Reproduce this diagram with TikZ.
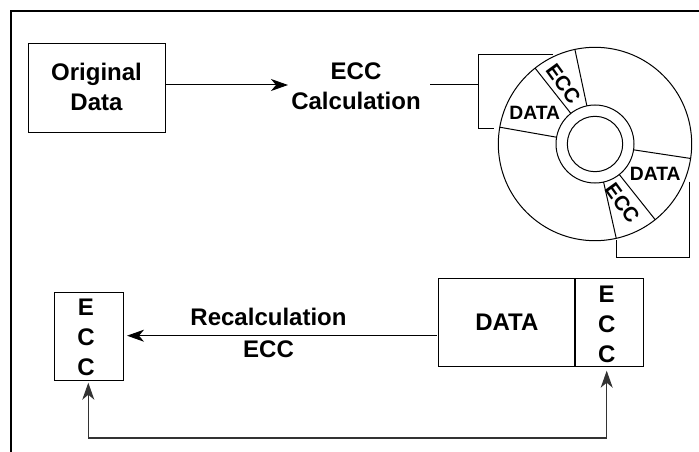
\documentclass[tikz,border=0pt]{standalone}
\usepackage{fontspec}
\setmainfont{Liberation Sans}
\usetikzlibrary{arrows.meta,calc}
\begin{document}
\begin{tikzpicture}[x=1pt,y=-1pt,
  line width=1pt,
  boxstyle/.style={draw,inner sep=0pt,rectangle},
  txt/.style={inner sep=0pt,align=center,font=\fontsize{24}{30}\selectfont\bfseries},
  disktxt/.style={inner sep=0pt,font=\fontsize{19.3}{22}\selectfont\bfseries},
  diskecc/.style={inner sep=0pt,font=\fontsize{20.5}{22}\selectfont\bfseries,rotate=-54},
  arr/.style={-{Stealth[length=17pt,width=12pt,inset=5pt]}},
  link/.style={line width=1.2pt,draw=black!80}]
\useasboundingbox (0,0) rectangle (699,452);
\fill[white] (0,0) rectangle (699,452);
\draw[line width=2.6pt] (11,452) -- (11,11) -- (699,11);
% boxes
\node[boxstyle,minimum width=137pt,minimum height=88pt] (orig) at (96.5,88) {};
\node[txt] (origt) at (96.5,86.5) {Original\\Data};
\node[txt] (calc) at (356,86) {ECC\\Calculation};
\node[boxstyle,minimum width=68.5pt,minimum height=88pt] (eccL) at (89.2,336.7) {};
\node[txt] (eccLt) at (86,337.5) {E\\C\\C};
\node[boxstyle,txt,minimum width=137pt,minimum height=88pt] (data) at (506.8,322) {DATA};
\node[boxstyle,minimum width=68.5pt,minimum height=88pt] (eccR) at (609.2,322) {};
\node[txt] (eccRt) at (606.7,324.5) {E\\C\\C};
\node[txt] (recalc) at (268.5,333) {Recalculation\\[2.5pt]ECC};
% disk
\coordinate (disk) at (595,144);
\draw (disk) circle (96.7pt);
\draw (disk) circle (39pt);
\draw (disk) circle (27.7pt);
\foreach \a in {102,128.3,170,-8.6,-51.5,-77.3}
  \draw ($(disk)+(\a:39pt)$) -- ($(disk)+(\a:96.7pt)$);
\node[disktxt] (d1) at (534.7,113.3) {DATA};
\node[disktxt] (d2) at (655.3,174.3) {DATA};
\node[diskecc] (e1) at (563.3,84) {ECC};
\node[diskecc] (e2) at (622.3,203.3) {ECC};
% bracket coordinates
\coordinate (calcOut) at (430,85);
\coordinate (brJ) at (478,85);
\coordinate (brT) at (553,54.7);
\coordinate (brB) at (494,128);
\coordinate (br2a) at (689.3,181.7);
\coordinate (br2b) at (616,240);
\coordinate (arrOrig) at (288,85);
\coordinate (arrBack) at (127,335.7);
\coordinate (arrFrom) at (436.5,335.7);
\coordinate (busL) at (88.3,438);
\coordinate (busR) at (606.7,438);
\coordinate (tipL) at (88.3,382.7);
\coordinate (tipR) at (606.7,370.7);
% connectors
\draw[arr] (orig.east |- arrOrig) -- (arrOrig);
\draw (calcOut) -- (brJ);
\draw (brT) -- (brJ |- brT) -- (brJ |- brB) -- (brB);
\draw (br2a) -- (br2a |- 0,257.3) -- (br2b |- 0,257.3) -- (br2b);
\draw[arr] (arrFrom) -- (arrBack);
\draw[link,arr] (busR) -- (tipR);
\draw[link,arr] (busR) -- (busL) -- (tipL);
\end{tikzpicture}
\end{document}
